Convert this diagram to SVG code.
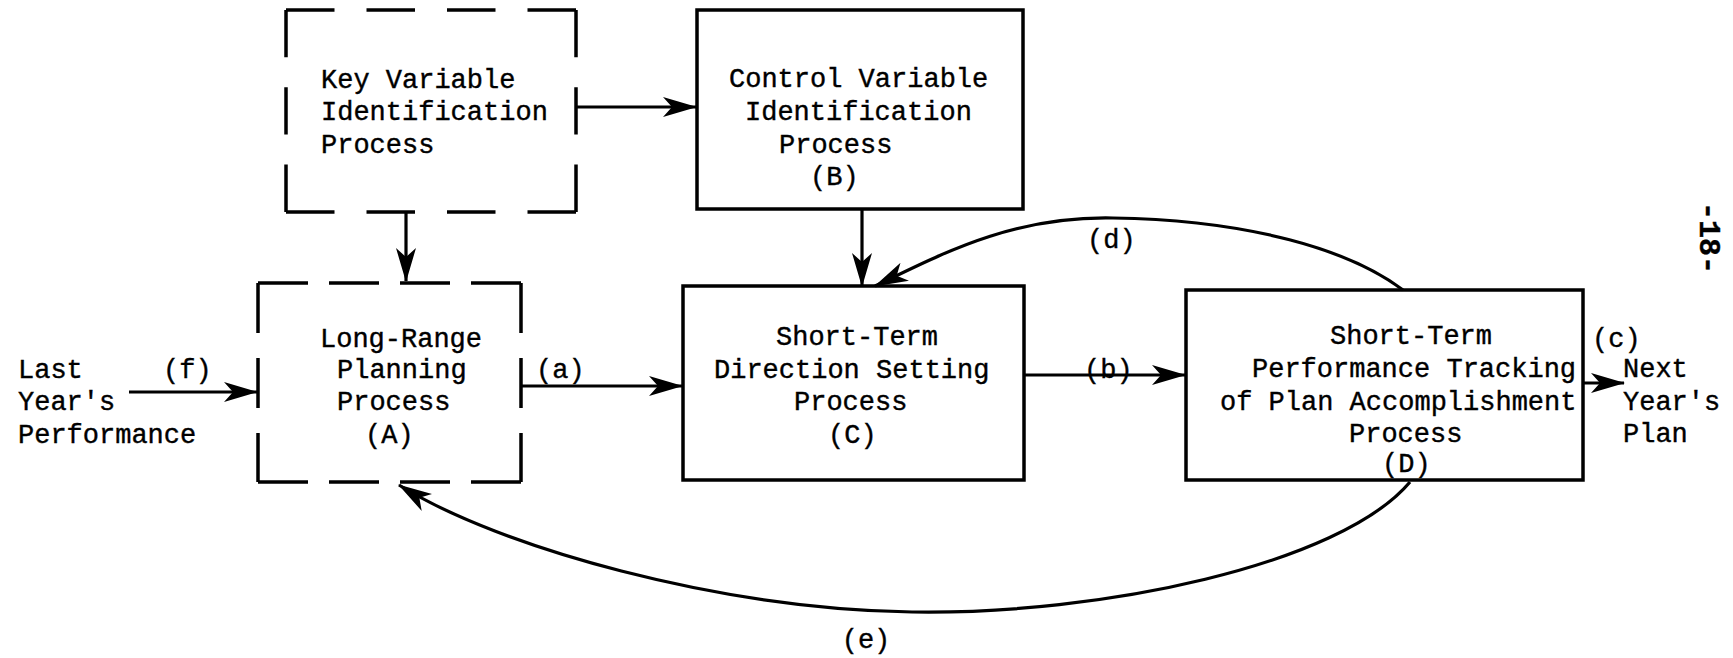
<svg xmlns="http://www.w3.org/2000/svg" width="1733" height="658" viewBox="0 0 1733 658">
<style>
.t{font-family:"Liberation Mono","DejaVu Sans Mono",monospace;font-size:27px;fill:#000;stroke:#000;stroke-width:0.4}
.box{fill:none;stroke:#000;stroke-width:3.5}
.dh{fill:none;stroke:#000;stroke-width:3.5}
.ln{fill:none;stroke:#000;stroke-width:3.2}
</style>
<defs>
<marker id="ah" viewBox="0 0 34 20" refX="33" refY="10" markerWidth="34" markerHeight="20" markerUnits="userSpaceOnUse" orient="auto">
<path d="M0,0 L34,10 L0,20 L9,10 z" fill="#000"/>
</marker>
</defs>
<g id="connectors">
<line class="ln" x1="576" y1="107" x2="696" y2="107" marker-end="url(#ah)"/>
<line class="ln" x1="406" y1="212" x2="406" y2="281" marker-end="url(#ah)"/>
<line class="ln" x1="862" y1="209" x2="862" y2="286" marker-end="url(#ah)"/>
<line class="ln" x1="129" y1="392" x2="257" y2="392" marker-end="url(#ah)"/>
<line class="ln" x1="521" y1="386" x2="682" y2="386" marker-end="url(#ah)"/>
<line class="ln" x1="1024" y1="375" x2="1185" y2="375" marker-end="url(#ah)"/>
<line class="ln" x1="1583" y1="383" x2="1624" y2="383" marker-end="url(#ah)"/>
<path class="ln" d="M1403,290 C1350,250 1250,220 1113,218 C1010,216 940,255 875,286" marker-end="url(#ah)"/>
<path class="ln" d="M1410,482 C1340,565 1100,615 912,612 C720,609 500,548 399,485" marker-end="url(#ah)"/>
<text class="t" x="163" y="378">(f)</text>
<text class="t" x="536" y="378">(a)</text>
<text class="t" x="1084" y="378">(b)</text>
<text class="t" x="1592" y="347">(c)</text>
<text class="t" x="1087" y="248">(d)</text>
<text class="t" x="866" y="648" text-anchor="middle">(e)</text>
</g>
<g id="key">
<path class="dh" d="M286,10 H576 M286,212 H576" stroke-dasharray="48.5 32"/>
<path class="dh" d="M286,10 V212 M576,10 V212" stroke-dasharray="47.3 30"/>
<text class="t" x="321" y="88">Key Variable</text>
<text class="t" x="321" y="120">Identification</text>
<text class="t" x="321" y="153">Process</text>
</g>
<g id="control">
<rect class="box" x="697" y="10" width="326" height="199"/>
<text class="t" x="729" y="87">Control Variable</text>
<text class="t" x="745" y="120">Identification</text>
<text class="t" x="779" y="153">Process</text>
<text class="t" x="810" y="185">(B)</text>
</g>
<g id="longrange">
<path class="dh" d="M258,283 H521 M258,482 H521" stroke-dasharray="50 21"/>
<path class="dh" d="M258,283 V482 M521,283 V482" stroke-dasharray="50 25"/>
<text class="t" x="320" y="347">Long-Range</text>
<text class="t" x="337" y="378">Planning</text>
<text class="t" x="337" y="410">Process</text>
<text class="t" x="365" y="443">(A)</text>
</g>
<g id="shortterm">
<rect class="box" x="683" y="286" width="341" height="194"/>
<text class="t" x="776" y="345">Short-Term</text>
<text class="t" x="714" y="378">Direction Setting</text>
<text class="t" x="794" y="410">Process</text>
<text class="t" x="828" y="443">(C)</text>
</g>
<g id="tracking">
<rect class="box" x="1186" y="290" width="397" height="190"/>
<text class="t" x="1330" y="344">Short-Term</text>
<text class="t" x="1252" y="377">Performance Tracking</text>
<text class="t" x="1220" y="410">of Plan Accomplishment</text>
<text class="t" x="1349" y="442">Process</text>
<text class="t" x="1382" y="472">(D)</text>
</g>
<g id="lastyear">
<text class="t" x="18" y="378">Last</text>
<text class="t" x="18" y="410">Year's</text>
<text class="t" x="18" y="443">Performance</text>
</g>
<g id="nextyear">
<text class="t" x="1623" y="377">Next</text>
<text class="t" x="1623" y="410">Year's</text>
<text class="t" x="1623" y="442">Plan</text>
</g>
<text class="t" style="font-size:30px;font-weight:bold" transform="translate(1700,202) rotate(90)">-18-</text>
</svg>
